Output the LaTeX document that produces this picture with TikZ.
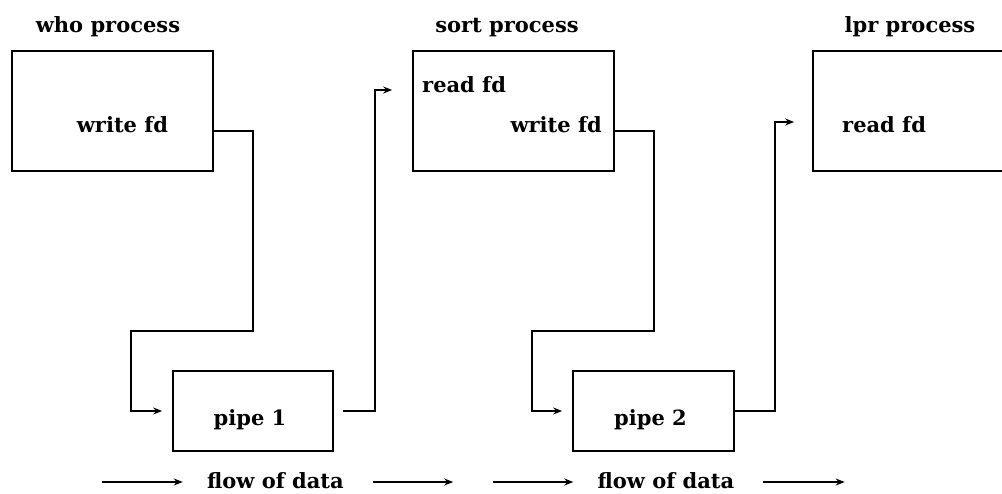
\documentclass[tikz,border=0pt]{standalone}
\usepackage{fontspec}
\setmainfont{DejaVu Serif}
\usetikzlibrary{arrows.meta}
\newcommand{\figlabelfont}{\fontsize{21}{25}\selectfont\bfseries}
\begin{document}
\begin{tikzpicture}[x=1pt, y=-1pt,
  every node/.style={font=\figlabelfont, inner sep=0pt},
  procbox/.style={draw, line width=1.7pt, minimum width=201pt, minimum height=120pt},
  pipebox/.style={draw, line width=1.7pt, minimum width=160pt, minimum height=80pt},
  fdflow/.style={line width=1.5pt, -{Stealth[length=9pt, width=7pt]}},
  flowlabel/.style={anchor=base, minimum width=147pt}]
\useasboundingbox (0,0) rectangle (1002,493);
% Process boxes
\node[procbox] (who) at (112.5,111) {};
\node[procbox] (sort) at (513.5,111) {};
\node[procbox] (lpr) at (913.5,111) {};
% Pipe boxes
\node[pipebox] (pipe1) at (253,411) {};
\node[pipebox, minimum width=161pt] (pipe2) at (653.5,411) {};
% Titles
\node[anchor=base] (whotitle) at (108,32) {who process};
\node[anchor=base] (sorttitle) at (507,32) {sort process};
\node[anchor=base] (lprtitle) at (910,32) {lpr process};
% File descriptors
\node[anchor=base] (whowfd) at (122.5,132) {write fd};
\node[anchor=base west] (sortrfd) at (422,92) {read fd};
\node[anchor=base east] (sortwfd) at (602,132) {write fd};
\node[anchor=base west] (lprrfd) at (842,132) {read fd};
\node[anchor=base] (pipe1lab) at (250,425) {pipe 1};
\node[anchor=base] (pipe2lab) at (650.5,425) {pipe 2};
% who -> pipe 1 -> sort
\draw[fdflow, shorten >=10pt] ([yshift=-20pt]who.east) -| ++(39,200) -| ([xshift=-41pt]pipe1.west) -- (pipe1.west);
\draw[fdflow, shorten <=9pt, shorten >=20pt] (pipe1.east) -- ++(41,0) |- ([yshift=21pt]sort.west);
% sort -> pipe 2 -> lpr
\draw[fdflow, shorten >=10pt] ([yshift=-20pt]sort.east) -| ++(39,200) -| ([xshift=-40pt]pipe2.west) -- (pipe2.west);
\draw[fdflow, shorten >=18pt] (pipe2.east) -- ++(40,0) |- ([yshift=-11pt]lpr.west);
% Flow of data
\node[flowlabel] (flow1) at (275.5,488) {flow of data};
\node[flowlabel] (flow2) at (666,488) {flow of data};
\draw[fdflow] ([shift={(-100pt,6pt)}]flow1.base west) -- ([shift={(-19pt,6pt)}]flow1.base west);
\draw[fdflow] ([shift={(24pt,6pt)}]flow1.base east) -- ([shift={(104pt,6pt)}]flow1.base east);
\draw[fdflow] ([shift={(-99pt,6pt)}]flow2.base west) -- ([shift={(-19pt,6pt)}]flow2.base west);
\draw[fdflow] ([shift={(23pt,6pt)}]flow2.base east) -- ([shift={(105pt,6pt)}]flow2.base east);
\end{tikzpicture}
\end{document}
